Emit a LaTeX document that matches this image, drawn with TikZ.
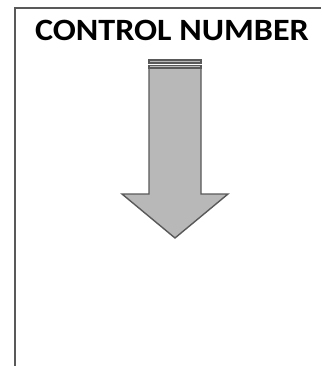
\documentclass[tikz,border=0pt]{standalone}
\usepackage{fontspec}
\setmainfont{Carlito}
\begin{document}
\begin{tikzpicture}[x=1pt,y=-1pt,
  frame/.style={draw=black!65,line width=1.8pt},
  arrowbody/.style={draw=black!65,fill=black!28,line width=1.4pt,line join=miter},
  stripe/.style={draw=black!65,line width=1.6pt,fill=black!28}]
\useasboundingbox (0,0) rectangle (321,366);
\draw[frame] (15,366) -- (15,8) -- (321,8);
\node[font=\bfseries\fontsize{31}{31}\selectfont,anchor=base,xscale=1.1,inner sep=0pt] (title) at (172,41) {CONTROL NUMBER};
\draw[arrowbody] (149,68) -- (201,68) -- (201,194) -- (228,194) -- (175,238) -- (122,194) -- (149,194) -- cycle;
\draw[stripe] (149,60) rectangle (201,63);
\draw[stripe] (149,65.5) rectangle (201,68);
\end{tikzpicture}
\end{document}
